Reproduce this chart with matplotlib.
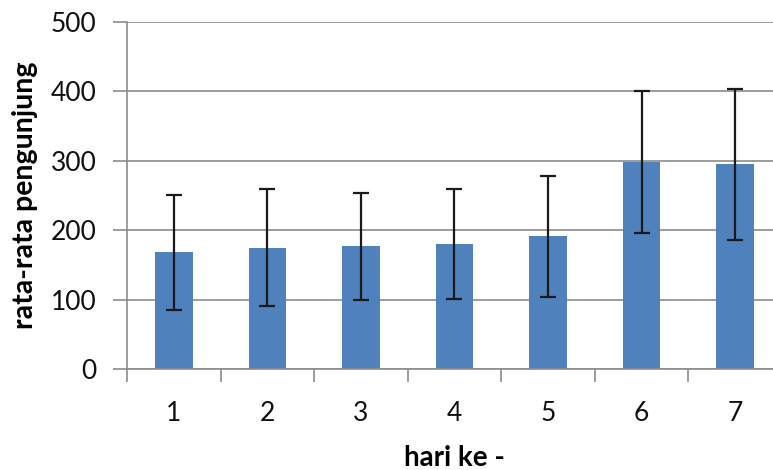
import numpy as np
import matplotlib
matplotlib.use("Agg")
import matplotlib.pyplot as plt

plt.rcParams["font.family"] = ["Lato", "DejaVu Sans"]

days = ["1", "2", "3", "4", "5", "6", "7"]
mean_visitors = [168, 175, 177, 180, 191, 298, 295]
sd_visitors = [83, 84, 77, 79, 87, 102, 109]

fig = plt.figure(figsize=(7.73, 4.70), dpi=100)
ax = fig.add_axes([0.1643, 0.2149, 0.8473, 0.7383])

x = np.arange(1, len(days) + 1)
ax.bar(x, mean_visitors, width=0.40, color="#4F81BD", zorder=2)
ax.errorbar(x, mean_visitors, yerr=sd_visitors, fmt="none", ecolor="#1a1a1a",
            elinewidth=1.6, capsize=5.5, capthick=1.6, zorder=3)

ax.set_xlim(0.5, 7.5)
ax.set_ylim(0, 500)
ax.set_yticks(range(0, 501, 100))
ax.yaxis.grid(True, color="#8c8c8c", lw=1.2, zorder=0)
ax.set_axisbelow(True)

ax.set_xticks(x)
ax.set_xticklabels(days)
ax.set_xticks(np.arange(0.5, 8.0, 1.0), minor=True)
ax.tick_params(axis="x", which="major", length=0, pad=23, labelsize=19)
ax.tick_params(axis="x", which="minor", length=9, width=1.2, color="#8c8c8c")
ax.tick_params(axis="y", length=10, width=1.2, color="#8c8c8c", pad=12, labelsize=19)
for lbl in ax.get_xticklabels() + ax.get_yticklabels():
    lbl.set_color("#111111")

for s in ["top", "right"]:
    ax.spines[s].set_visible(False)
for s in ["left", "bottom"]:
    ax.spines[s].set_color("#8c8c8c")
    ax.spines[s].set_linewidth(1.2)

ax.set_ylabel("rata-rata pengunjung", fontsize=20.5, fontweight="bold", labelpad=9)
ax.set_xlabel("hari ke -", fontsize=20, fontweight="bold", labelpad=14)

fig.savefig("out.png", dpi=100)
